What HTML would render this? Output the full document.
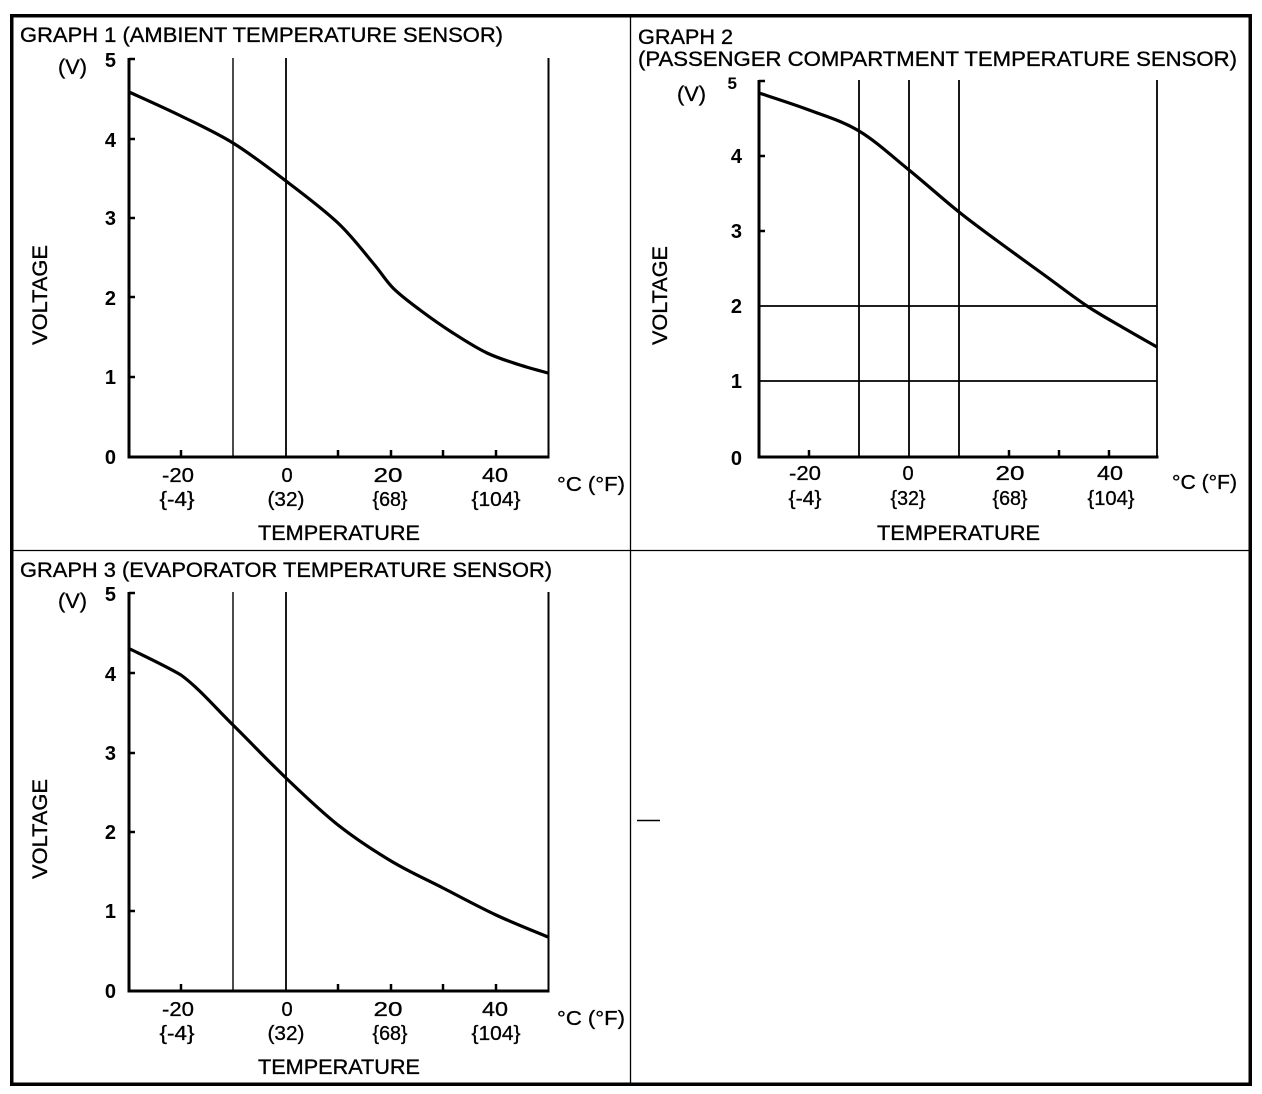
<!DOCTYPE html>
<html>
<head>
<meta charset="utf-8">
<style>
  html, body { margin: 0; padding: 0; background: #fff; }
  body { width: 1262px; height: 1094px; overflow: hidden; }
  svg { display: block; }
  text { font-family: "Liberation Sans", Arial, sans-serif; fill: #000; }
  .t { font-size: 21px; stroke: #000; stroke-width: 0.35; }
  .d { font-size: 20px; font-weight: bold; }
  .x { font-size: 20px; stroke: #000; stroke-width: 0.3; }
</style>
</head>
<body>
<svg width="1262" height="1094" viewBox="0 0 1262 1094" xmlns="http://www.w3.org/2000/svg">
  <rect x="0" y="0" width="1262" height="1094" fill="#fff"/>
  <rect x="11.75" y="15.75" width="1238.5" height="1068.5" fill="none" stroke="#000" stroke-width="3.5"/>
  <line x1="630.5" y1="15" x2="630.5" y2="1085" stroke="#000" stroke-width="1.3"/>
  <line x1="12" y1="550.5" x2="1250" y2="550.5" stroke="#000" stroke-width="1.3"/>
  <line x1="637" y1="820.5" x2="660" y2="820.5" stroke="#000" stroke-width="1.5"/>

  <!-- ================= GRAPH 1 ================= -->
  <g id="g1">
    <text class="t" x="20" y="42" textLength="483" lengthAdjust="spacingAndGlyphs">GRAPH 1 (AMBIENT TEMPERATURE SENSOR)</text>
    <text class="t" x="58" y="74" textLength="29" lengthAdjust="spacingAndGlyphs">(V)</text>
    <text class="d" x="116" y="67" text-anchor="end">5</text>
    <text class="d" x="116" y="147" text-anchor="end">4</text>
    <text class="d" x="116" y="225" text-anchor="end">3</text>
    <text class="d" x="116" y="305" text-anchor="end">2</text>
    <text class="d" x="116" y="384" text-anchor="end">1</text>
    <text class="d" x="116" y="464" text-anchor="end">0</text>
    <text class="t" transform="translate(47,345) rotate(-90)" x="0" y="0" textLength="100" lengthAdjust="spacingAndGlyphs">VOLTAGE</text>
    <line x1="233" y1="58" x2="233" y2="457" stroke="#000" stroke-width="1.4"/>
    <line x1="286" y1="58" x2="286" y2="457" stroke="#000" stroke-width="1.8"/>
    <line x1="548.5" y1="58" x2="548.5" y2="457" stroke="#000" stroke-width="2"/>
    <line x1="129" y1="58" x2="129" y2="458.5" stroke="#000" stroke-width="3"/>
    <line x1="127.5" y1="457" x2="549.5" y2="457" stroke="#000" stroke-width="3"/>
    <g stroke="#000" stroke-width="2.5">
      <line x1="129" y1="59" x2="135" y2="59"/>
      <line x1="129" y1="139" x2="135" y2="139"/>
      <line x1="129" y1="218" x2="135" y2="218"/>
      <line x1="129" y1="297" x2="135" y2="297"/>
      <line x1="129" y1="377" x2="135" y2="377"/>
      <line x1="181" y1="457" x2="181" y2="450"/>
      <line x1="338" y1="457" x2="338" y2="450"/>
      <line x1="391" y1="457" x2="391" y2="450"/>
      <line x1="443" y1="457" x2="443" y2="450"/>
      <line x1="496" y1="457" x2="496" y2="450"/>
    </g>
    <path fill="none" stroke="#000" stroke-width="3.2" stroke-linejoin="round"
      d="M129,92 C137.7,96 163.7,107.5 181,116 C198.3,124.5 215.5,132.2 233,143 C250.5,153.8 268.5,167.7 286,181 C303.5,194.3 323.5,209.3 338,223 C352.5,236.7 363.8,252.2 373,263 C382.2,273.8 385.2,280.2 393,288 C400.8,295.8 410,302.5 420,310 C430,317.5 441.8,325.8 453,333 C464.2,340.2 475.8,347.7 487,353 C498.2,358.3 509.8,361.7 520,365 C530.2,368.3 543.3,371.7 548,373"/>
    <text class="x" x="178" y="482" text-anchor="middle" textLength="32" lengthAdjust="spacingAndGlyphs">-20</text>
    <text class="x" x="287" y="482" text-anchor="middle">0</text>
    <text class="x" x="388" y="482" text-anchor="middle" textLength="29" lengthAdjust="spacingAndGlyphs">20</text>
    <text class="x" x="495" y="482" text-anchor="middle" textLength="26" lengthAdjust="spacingAndGlyphs">40</text>
    <text class="x" x="177" y="506" text-anchor="middle" textLength="35" lengthAdjust="spacingAndGlyphs">{-4}</text>
    <text class="x" x="286" y="506" text-anchor="middle" textLength="37" lengthAdjust="spacingAndGlyphs">(32)</text>
    <text class="x" x="390" y="506" text-anchor="middle" textLength="35" lengthAdjust="spacingAndGlyphs">{68}</text>
    <text class="x" x="496" y="506" text-anchor="middle" textLength="49" lengthAdjust="spacingAndGlyphs">{104}</text>
    <text class="x" x="557" y="491" textLength="68" lengthAdjust="spacingAndGlyphs">°C (°F)</text>
    <text class="t" x="258" y="540" textLength="162" lengthAdjust="spacingAndGlyphs">TEMPERATURE</text>
  </g>

  <!-- ================= GRAPH 2 ================= -->
  <g id="g2">
    <text class="t" x="638" y="44" textLength="95" lengthAdjust="spacingAndGlyphs">GRAPH 2</text>
    <text class="t" x="638" y="66" textLength="599" lengthAdjust="spacingAndGlyphs">(PASSENGER COMPARTMENT TEMPERATURE SENSOR)</text>
    <text class="t" x="677" y="101" textLength="29" lengthAdjust="spacingAndGlyphs">(V)</text>
    <text class="d" style="font-size:17px" x="737" y="89" text-anchor="end">5</text>
    <text class="d" x="742" y="163" text-anchor="end">4</text>
    <text class="d" x="742" y="238" text-anchor="end">3</text>
    <text class="d" x="742" y="313" text-anchor="end">2</text>
    <text class="d" x="742" y="388" text-anchor="end">1</text>
    <text class="d" x="742" y="465" text-anchor="end">0</text>
    <text class="t" transform="translate(667,345) rotate(-90)" x="0" y="0" textLength="99" lengthAdjust="spacingAndGlyphs">VOLTAGE</text>
    <g stroke="#000" stroke-width="1.8">
      <line x1="859" y1="80" x2="859" y2="457"/>
      <line x1="909" y1="80" x2="909" y2="457"/>
      <line x1="959" y1="80" x2="959" y2="457"/>
      <line x1="1157" y1="80" x2="1157" y2="457"/>
      <line x1="759" y1="306" x2="1157" y2="306"/>
      <line x1="759" y1="381" x2="1157" y2="381"/>
    </g>
    <line x1="759" y1="80" x2="759" y2="458.5" stroke="#000" stroke-width="3"/>
    <line x1="757.5" y1="457" x2="1158.5" y2="457" stroke="#000" stroke-width="3"/>
    <g stroke="#000" stroke-width="2.5">
      <line x1="759" y1="81" x2="765" y2="81"/>
      <line x1="759" y1="156" x2="765" y2="156"/>
      <line x1="759" y1="231" x2="765" y2="231"/>
      <line x1="809" y1="457" x2="809" y2="450"/>
      <line x1="1009" y1="457" x2="1009" y2="450"/>
      <line x1="1059" y1="457" x2="1059" y2="450"/>
      <line x1="1109" y1="457" x2="1109" y2="450"/>
    </g>
    <path fill="none" stroke="#000" stroke-width="3.2" stroke-linejoin="round"
      d="M759,93 C767.3,95.8 792.3,103.7 809,110 C825.7,116.3 842.3,121 859,131 C875.7,141 892.3,156.5 909,170 C925.7,183.5 942.7,199 959,212 C975.3,225 992.3,237.2 1007,248 C1021.7,258.8 1033.7,267.3 1047,277 C1060.3,286.7 1074.5,297.7 1087,306 C1099.5,314.3 1110.3,320.2 1122,327 C1133.7,333.8 1151.2,343.7 1157,347"/>
    <text class="x" x="805" y="480" text-anchor="middle" textLength="32" lengthAdjust="spacingAndGlyphs">-20</text>
    <text class="x" x="908" y="480" text-anchor="middle">0</text>
    <text class="x" x="1010" y="480" text-anchor="middle" textLength="29" lengthAdjust="spacingAndGlyphs">20</text>
    <text class="x" x="1110" y="480" text-anchor="middle" textLength="26" lengthAdjust="spacingAndGlyphs">40</text>
    <text class="x" x="805" y="505" text-anchor="middle" textLength="33" lengthAdjust="spacingAndGlyphs">{-4}</text>
    <text class="x" x="908" y="505" text-anchor="middle" textLength="35" lengthAdjust="spacingAndGlyphs">{32}</text>
    <text class="x" x="1010" y="505" text-anchor="middle" textLength="35" lengthAdjust="spacingAndGlyphs">{68}</text>
    <text class="x" x="1111" y="505" text-anchor="middle" textLength="47" lengthAdjust="spacingAndGlyphs">{104}</text>
    <text class="x" x="1172" y="489" textLength="65" lengthAdjust="spacingAndGlyphs">°C (°F)</text>
    <text class="t" x="877" y="540" textLength="163" lengthAdjust="spacingAndGlyphs">TEMPERATURE</text>
  </g>

  <!-- ================= GRAPH 3 ================= -->
  <g id="g3">
    <text class="t" x="20" y="577" textLength="532" lengthAdjust="spacingAndGlyphs">GRAPH 3 (EVAPORATOR TEMPERATURE SENSOR)</text>
    <text class="t" x="58" y="608" textLength="29" lengthAdjust="spacingAndGlyphs">(V)</text>
    <text class="d" x="116" y="601" text-anchor="end">5</text>
    <text class="d" x="116" y="681" text-anchor="end">4</text>
    <text class="d" x="116" y="760" text-anchor="end">3</text>
    <text class="d" x="116" y="839" text-anchor="end">2</text>
    <text class="d" x="116" y="918" text-anchor="end">1</text>
    <text class="d" x="116" y="998" text-anchor="end">0</text>
    <text class="t" transform="translate(47,879) rotate(-90)" x="0" y="0" textLength="100" lengthAdjust="spacingAndGlyphs">VOLTAGE</text>
    <line x1="233" y1="592" x2="233" y2="991" stroke="#000" stroke-width="1.4"/>
    <line x1="286" y1="592" x2="286" y2="991" stroke="#000" stroke-width="1.8"/>
    <line x1="548.5" y1="592" x2="548.5" y2="991" stroke="#000" stroke-width="2"/>
    <line x1="129" y1="592" x2="129" y2="992.5" stroke="#000" stroke-width="3"/>
    <line x1="127.5" y1="991" x2="549.5" y2="991" stroke="#000" stroke-width="3"/>
    <g stroke="#000" stroke-width="2.5">
      <line x1="129" y1="593" x2="135" y2="593"/>
      <line x1="129" y1="673" x2="135" y2="673"/>
      <line x1="129" y1="753" x2="135" y2="753"/>
      <line x1="129" y1="832" x2="135" y2="832"/>
      <line x1="129" y1="911" x2="135" y2="911"/>
      <line x1="181" y1="991" x2="181" y2="984"/>
      <line x1="338" y1="991" x2="338" y2="984"/>
      <line x1="391" y1="991" x2="391" y2="984"/>
      <line x1="443" y1="991" x2="443" y2="984"/>
      <line x1="496" y1="991" x2="496" y2="984"/>
    </g>
    <path fill="none" stroke="#000" stroke-width="3.2" stroke-linejoin="round"
      d="M128,648 C136.8,652.5 164,665 181,675 C198.5,687.8 215.5,707.8 233,725 C250.5,742.2 268.5,761.3 286,778 C303.5,794.7 320.5,811.2 338,825 C355.5,838.8 373.5,850.5 391,861 C408.5,871.5 425.5,879 443,888 C460.5,897 478.5,906.8 496,915 C513.5,923.2 539.3,933.3 548,937"/>
    <text class="x" x="178" y="1016" text-anchor="middle" textLength="32" lengthAdjust="spacingAndGlyphs">-20</text>
    <text class="x" x="287" y="1016" text-anchor="middle">0</text>
    <text class="x" x="388" y="1016" text-anchor="middle" textLength="29" lengthAdjust="spacingAndGlyphs">20</text>
    <text class="x" x="495" y="1016" text-anchor="middle" textLength="26" lengthAdjust="spacingAndGlyphs">40</text>
    <text class="x" x="177" y="1040" text-anchor="middle" textLength="35" lengthAdjust="spacingAndGlyphs">{-4}</text>
    <text class="x" x="286" y="1040" text-anchor="middle" textLength="37" lengthAdjust="spacingAndGlyphs">(32)</text>
    <text class="x" x="390" y="1040" text-anchor="middle" textLength="35" lengthAdjust="spacingAndGlyphs">{68}</text>
    <text class="x" x="496" y="1040" text-anchor="middle" textLength="49" lengthAdjust="spacingAndGlyphs">{104}</text>
    <text class="x" x="557" y="1025" textLength="68" lengthAdjust="spacingAndGlyphs">°C (°F)</text>
    <text class="t" x="258" y="1074" textLength="162" lengthAdjust="spacingAndGlyphs">TEMPERATURE</text>
  </g>
</svg>
</body>
</html>
